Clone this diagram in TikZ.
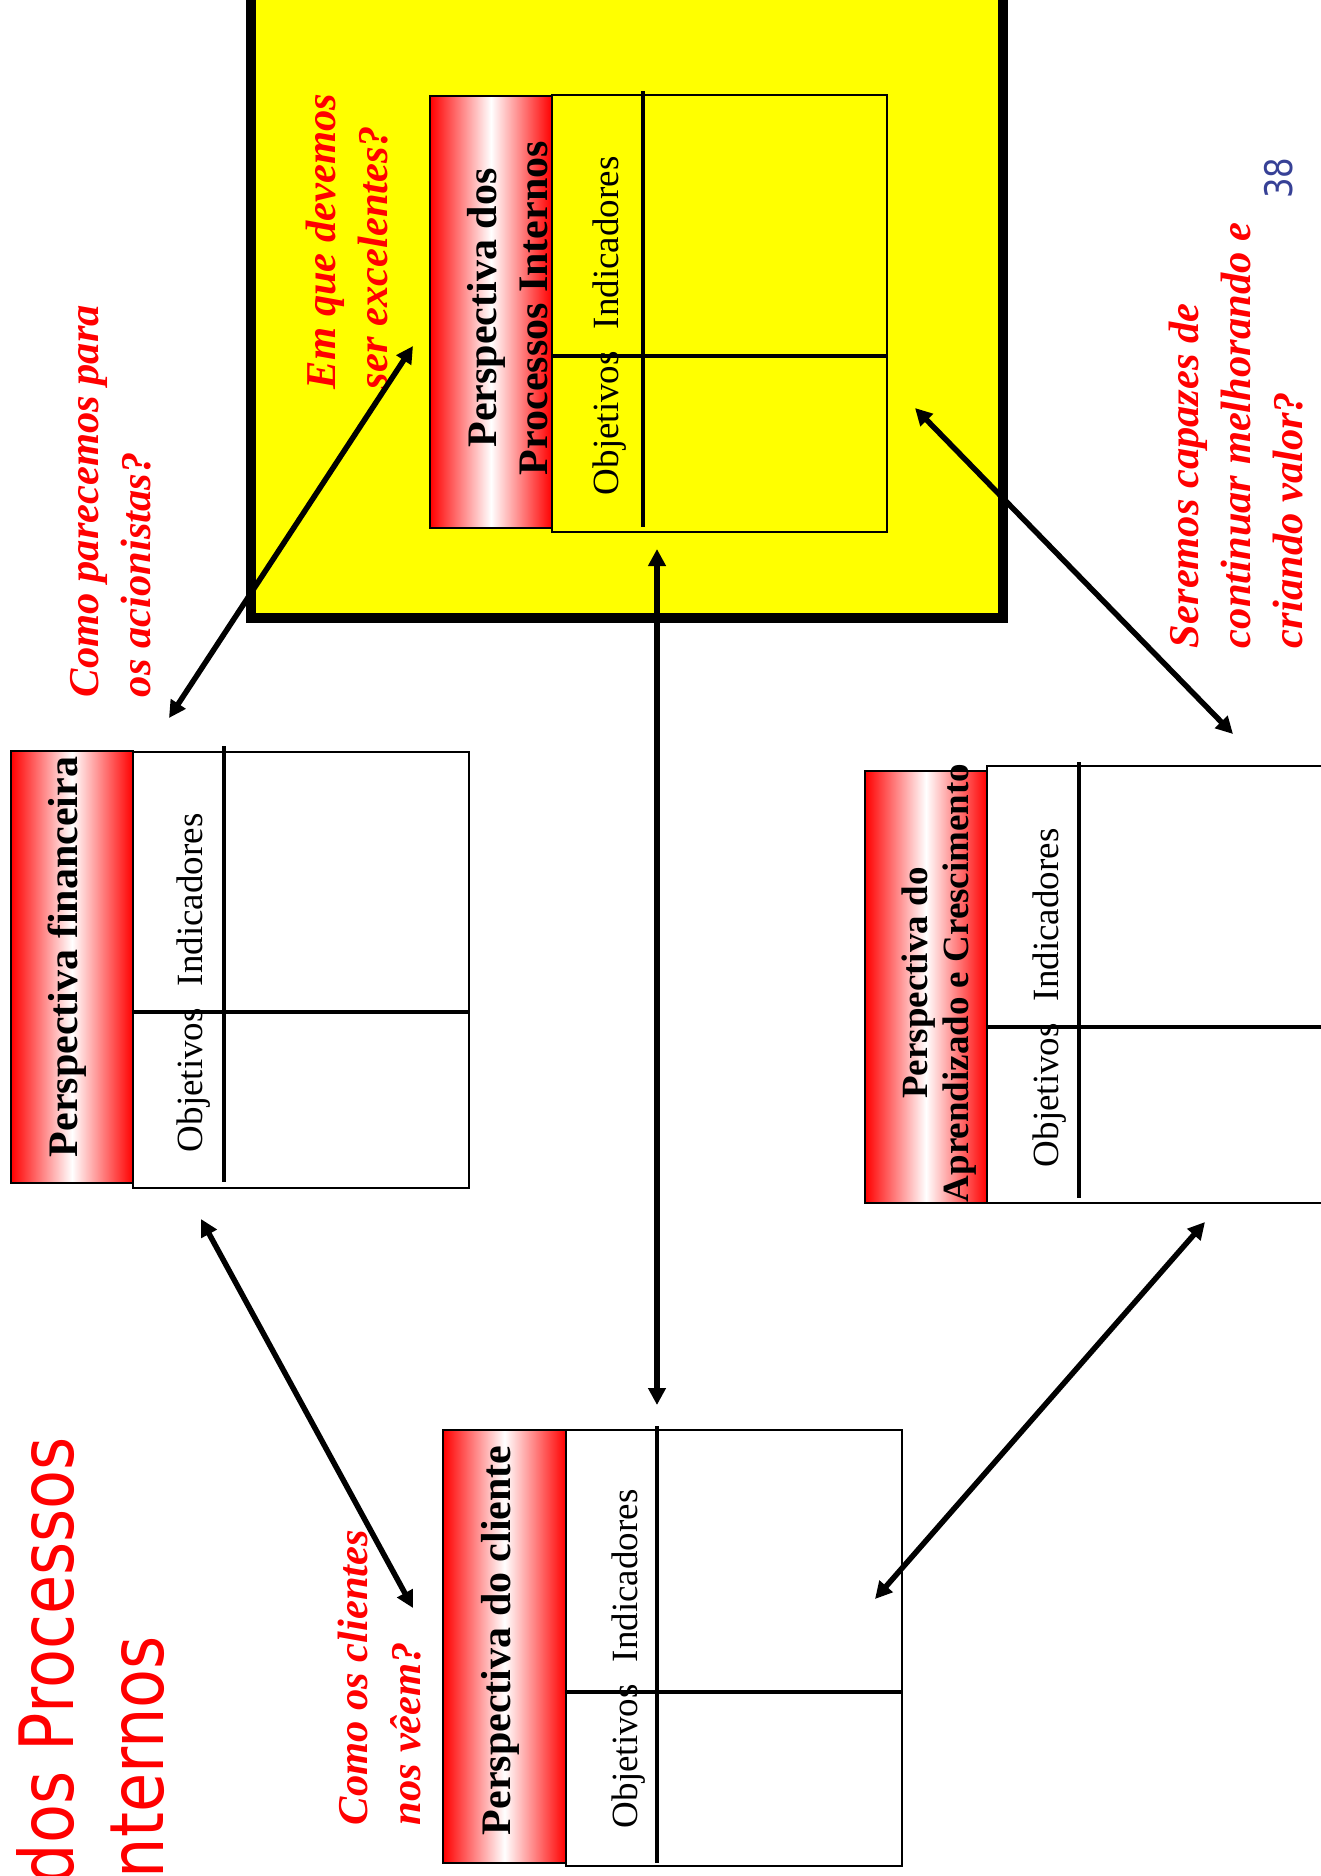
\documentclass[tikz,border=0pt]{standalone}
\usepackage{fontspec}
\setmainfont{Liberation Serif}
\newfontfamily\titlefont[FakeStretch=0.85]{DejaVu Sans}
\usetikzlibrary{arrows.meta}
\definecolor{pgnum}{RGB}{55,65,150}
\definecolor{frameyellow}{RGB}{255,255,0}
\definecolor{hdrred}{RGB}{255,0,0}
\definecolor{qred}{RGB}{255,0,0}
\begin{document}
\begin{tikzpicture}[x=1bp,y=-1bp,
  hdr/.style={draw=black, line width=2.5bp, left color=hdrred, right color=hdrred, middle color=white},
  tbl/.style={draw=black, line width=2.5bp},
  innerrule/.style={draw=black, line width=3.2bp},
  vtext/.style={rotate=90, inner sep=0pt, outer sep=0pt},
  hfont/.style={font=\fontsize{42bp}{50bp}\selectfont\bfseries},
  hfontsmall/.style={font=\fontsize{37bp}{44bp}\selectfont\bfseries},
  lfont/.style={font=\fontsize{37bp}{44bp}\selectfont},
  qfont/.style={font=\fontsize{42.5bp}{52bp}\selectfont\bfseries\itshape, text=qred},
  tfont/.style={font=\titlefont\fontsize{75bp}{90bp}\selectfont, text=qred},
  link/.style={draw=black, line width=5.5bp, {Triangle[length=17bp,width=17bp]}-{Triangle[length=17bp,width=17bp]}}
]
\useasboundingbox (0,0) rectangle (1321,1876);
\clip (0,0) rectangle (1321,1876);
\fill[white] (0,0) rectangle (1321,1876);

% title (cut off at the page edge)
\node[vtext, tfont, anchor=base east] (title1) at (73,1437) {dos Processos};
\node[vtext, tfont, anchor=base east] (title2) at (163,1636) {Internos};

% yellow frame
\draw[fill=frameyellow, line width=10bp] (251,-30) rectangle (1003,618);

% card: processos internos
\path[hdr] (430,96) rectangle (552,528);
\path[tbl] (552,95) rectangle (887,532);
\path[innerrule] (643,91) -- (643,527);
\path[innerrule] (552,356) -- (887,356);
\node[vtext, hfont, anchor=base] (proc1) at (496,308) {Perspectiva dos};
\node[vtext, hfont, anchor=base] (proc2) at (547,308) {Processos Internos};
\node[vtext, lfont, anchor=base west] (procL) at (618,495) {Objetivos\hspace{22bp}Indicadores};

% card: financeira
\path[hdr] (11,751) rectangle (133,1183);
\path[tbl, fill=white] (133,752) rectangle (469,1188);
\path[innerrule] (224,746) -- (224,1182);
\path[innerrule] (133,1012) -- (469,1012);
\node[vtext, hfont, anchor=base west] (fin1) at (77,1157) {Perspectiva financeira};
\node[vtext, lfont, anchor=base west] (finL) at (202,1152) {Objetivos\hspace{22bp}Indicadores};

% card: cliente
\path[hdr] (443,1430) rectangle (566,1863);
\path[tbl, fill=white] (566,1430) rectangle (902,1866);
\path[innerrule] (657,1426) -- (657,1863);
\path[innerrule] (566,1692) -- (902,1692);
\node[vtext, hfont, anchor=base west] (cli1) at (510,1835) {Perspectiva do cliente};
\node[vtext, lfont, anchor=base west] (cliL) at (637,1828) {Objetivos\hspace{22bp}Indicadores};

% card: aprendizado
\path[hdr] (865,771) rectangle (987,1203);
\path[tbl, fill=white] (987,766) rectangle (1340,1203);
\path[innerrule] (1079,762) -- (1079,1198);
\path[innerrule] (987,1027) -- (1340,1027);
\node[vtext, hfontsmall, anchor=base] (apr1) at (927,983) {Perspectiva do};
\node[vtext, hfontsmall, anchor=base] (apr2) at (968,983) {Aprendizado e Crescimento};
\node[vtext, lfont, anchor=base west] (aprL) at (1058,1167) {Objetivos\hspace{22bp}Indicadores};

% questions
\node[vtext, qfont, anchor=base west] (q1a) at (98,697) {Como parecemos para};
\node[vtext, qfont, anchor=base west] (q1b) at (150,697) {os acionistas?};
\node[vtext, qfont, anchor=base west] (q2a) at (335,389) {Em que devemos};
\node[vtext, qfont, anchor=base west] (q2b) at (387,389) {ser excelentes?};
\node[vtext, qfont, anchor=base west] (q3a) at (367,1825) {Como os clientes};
\node[vtext, qfont, anchor=base west] (q3b) at (420,1825) {nos vêem?};
\node[vtext, qfont, anchor=base west] (q4a) at (1198,648) {Seremos capazes de};
\node[vtext, qfont, anchor=base west] (q4b) at (1250,648) {continuar melhorando e};
\node[vtext, qfont, anchor=base west] (q4c) at (1302,648) {criando valor?};

% page number
\node[vtext, font=\titlefont\fontsize{38bp}{40bp}\selectfont, text=pgnum, anchor=base] (pg) at (1292,178) {38};

% connectors
\coordinate (a1s) at (169,718);
\coordinate (a1e) at (413,346);
\coordinate (a2s) at (201,1219);
\coordinate (a2e) at (413,1608);
\coordinate (a3s) at (657,549);
\coordinate (a3e) at (657,1405);
\coordinate (a4s) at (1205,1222);
\coordinate (a4e) at (875,1599);
\coordinate (a5s) at (915,408);
\coordinate (a5e) at (1233,734);
\draw[link] (a1s) -- (a1e);
\draw[link] (a2s) -- (a2e);
\draw[link] (a3s) -- (a3e);
\draw[link] (a4s) -- (a4e);
\draw[link] (a5s) -- (a5e);
\end{tikzpicture}
\end{document}
